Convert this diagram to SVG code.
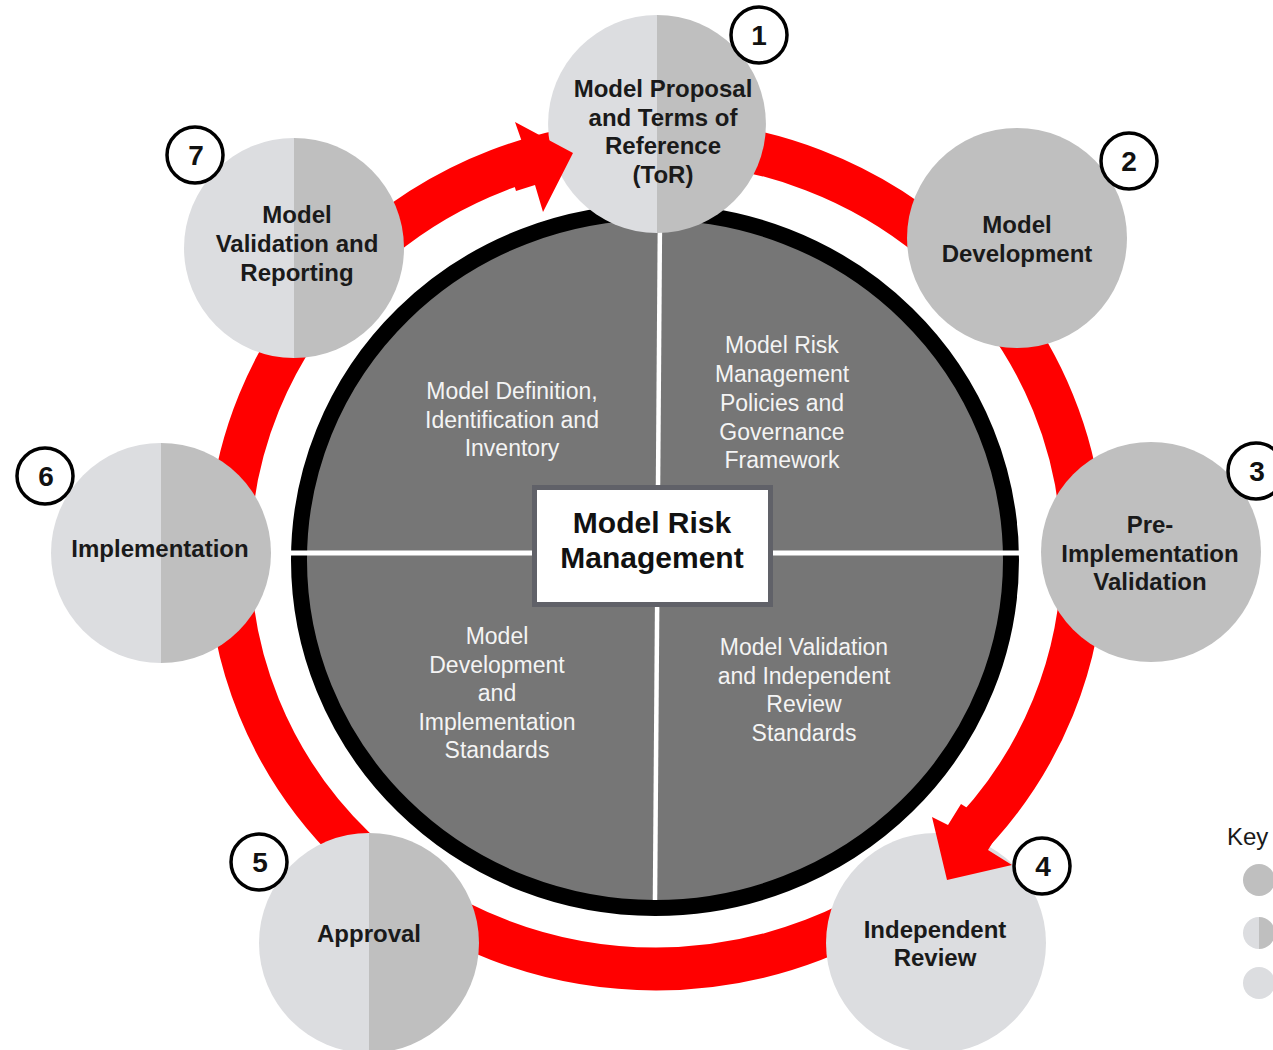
<svg xmlns="http://www.w3.org/2000/svg" width="1273" height="1050" viewBox="0 0 1273 1050">
<style>
.light{fill:#dcdde0}
.dark{fill:#bfbfbf}
.nt{font-family:"Liberation Sans",Arial,sans-serif;font-weight:bold;font-size:24px;fill:#1a1a1a;text-anchor:middle}
.it{font-family:"Liberation Sans",Arial,sans-serif;font-size:23px;fill:#f4f4f4;text-anchor:middle}
.badge circle{fill:#fff;stroke:#000;stroke-width:3.5}
.badge text{font-family:"Liberation Sans",Arial,sans-serif;font-weight:bold;font-size:28px;fill:#111;text-anchor:middle}
.red{fill:#ff0000}
</style>
<rect width="1273" height="1050" fill="#fff"/>

<g id="connectors">
  <ellipse cx="656" cy="555" rx="427" ry="414" fill="none" stroke="#ff0000" stroke-width="43"/>
</g>

<g id="center">
  <ellipse cx="655" cy="560" rx="356" ry="348" fill="#767676" stroke="#000" stroke-width="16"/>
  <line x1="660" y1="215" x2="655" y2="900" stroke="#fff" stroke-width="4.5"/>
  <line x1="290" y1="553" x2="1020" y2="553" stroke="#fff" stroke-width="5"/>
  <text class="it" x="512" y="399">Model Definition,</text>
  <text class="it" x="512" y="428">Identification and</text>
  <text class="it" x="512" y="456">Inventory</text>
  <text class="it" x="782" y="353">Model Risk</text>
  <text class="it" x="782" y="382">Management</text>
  <text class="it" x="782" y="411">Policies and</text>
  <text class="it" x="782" y="440">Governance</text>
  <text class="it" x="782" y="468">Framework</text>
  <text class="it" x="497" y="644">Model</text>
  <text class="it" x="497" y="673">Development</text>
  <text class="it" x="497" y="701">and</text>
  <text class="it" x="497" y="730">Implementation</text>
  <text class="it" x="497" y="758">Standards</text>
  <text class="it" x="804" y="655">Model Validation</text>
  <text class="it" x="804" y="684">and Independent</text>
  <text class="it" x="804" y="712">Review</text>
  <text class="it" x="804" y="741">Standards</text>
</g>

<g id="mrm">
  <rect x="534.5" y="487.5" width="236" height="117" fill="#fff" stroke="#606168" stroke-width="5"/>
  <text x="652" y="533" font-family="'Liberation Sans',Arial,sans-serif" font-weight="bold" font-size="30" fill="#111" text-anchor="middle">Model Risk</text>
  <text x="652" y="568" font-family="'Liberation Sans',Arial,sans-serif" font-weight="bold" font-size="30" fill="#111" text-anchor="middle">Management</text>
</g>

<g id="node-1">
  <path class="light" d="M657,15 A109,109 0 0 0 657,233 Z"/>
  <path class="dark" d="M657,15 A109,109 0 0 1 657,233 Z"/>
  <text class="nt" x="663" y="97">Model Proposal</text>
  <text class="nt" x="663" y="126">and Terms of</text>
  <text class="nt" x="663" y="154">Reference</text>
  <text class="nt" x="663" y="183">(ToR)</text>
</g>

<g id="node-2">
  <circle class="dark" cx="1017" cy="238" r="110"/>
  <text class="nt" x="1017" y="233">Model</text>
  <text class="nt" x="1017" y="262">Development</text>
</g>

<g id="node-3">
  <circle class="dark" cx="1151" cy="552" r="110"/>
  <text class="nt" x="1150" y="533">Pre-</text>
  <text class="nt" x="1150" y="562">Implementation</text>
  <text class="nt" x="1150" y="590">Validation</text>
</g>

<g id="node-4">
  <circle class="light" cx="936" cy="943" r="110"/>
  <text class="nt" x="935" y="938">Independent</text>
  <text class="nt" x="935" y="966">Review</text>
</g>

<g id="node-5">
  <path class="light" d="M369,833 A110,110 0 0 0 369,1053 Z"/>
  <path class="dark" d="M369,833 A110,110 0 0 1 369,1053 Z"/>
  <text class="nt" x="369" y="942">Approval</text>
</g>

<g id="node-6">
  <path class="light" d="M161,443 A110,110 0 0 0 161,663 Z"/>
  <path class="dark" d="M161,443 A110,110 0 0 1 161,663 Z"/>
  <text class="nt" x="160" y="557">Implementation</text>
</g>

<g id="node-7">
  <path class="light" d="M294,138 A110,110 0 0 0 294,358 Z"/>
  <path class="dark" d="M294,138 A110,110 0 0 1 294,358 Z"/>
  <text class="nt" x="297" y="223">Model</text>
  <text class="nt" x="297" y="252">Validation and</text>
  <text class="nt" x="297" y="281">Reporting</text>
</g>

<g id="connector-heads">
  <polygon class="red" points="503,148 522,142 515,122 573,153 543,212 535,185 516,191"/>
  <polygon class="red" points="1001,829 988,850 1012,865 947,880 932,817 948,825 961,804"/>
</g>

<g id="badges">
  <g id="badge-1" class="badge"><circle cx="759" cy="35" r="28"/><text x="759" y="45">1</text></g>
  <g id="badge-2" class="badge"><circle cx="1129" cy="161" r="28"/><text x="1129" y="171">2</text></g>
  <g id="badge-3" class="badge"><circle cx="1256" cy="471" r="28"/><text x="1257" y="481">3</text></g>
  <g id="badge-4" class="badge"><circle cx="1042" cy="866" r="28"/><text x="1043" y="876">4</text></g>
  <g id="badge-5" class="badge"><circle cx="259" cy="862" r="28"/><text x="260" y="872">5</text></g>
  <g id="badge-6" class="badge"><circle cx="45" cy="476" r="28"/><text x="46" y="486">6</text></g>
  <g id="badge-7" class="badge"><circle cx="195" cy="155" r="28"/><text x="196" y="165">7</text></g>
</g>

<g id="key">
  <text x="1227" y="845" font-family="'Liberation Sans',Arial,sans-serif" font-size="24" fill="#1a1a1a">Key</text>
  <circle class="dark" cx="1259" cy="880" r="16"/>
  <path class="light" d="M1259,917 A16,16 0 0 0 1259,949 Z"/>
  <path class="dark" d="M1259,917 A16,16 0 0 1 1259,949 Z"/>
  <circle class="light" cx="1259" cy="983" r="16"/>
</g>
</svg>
